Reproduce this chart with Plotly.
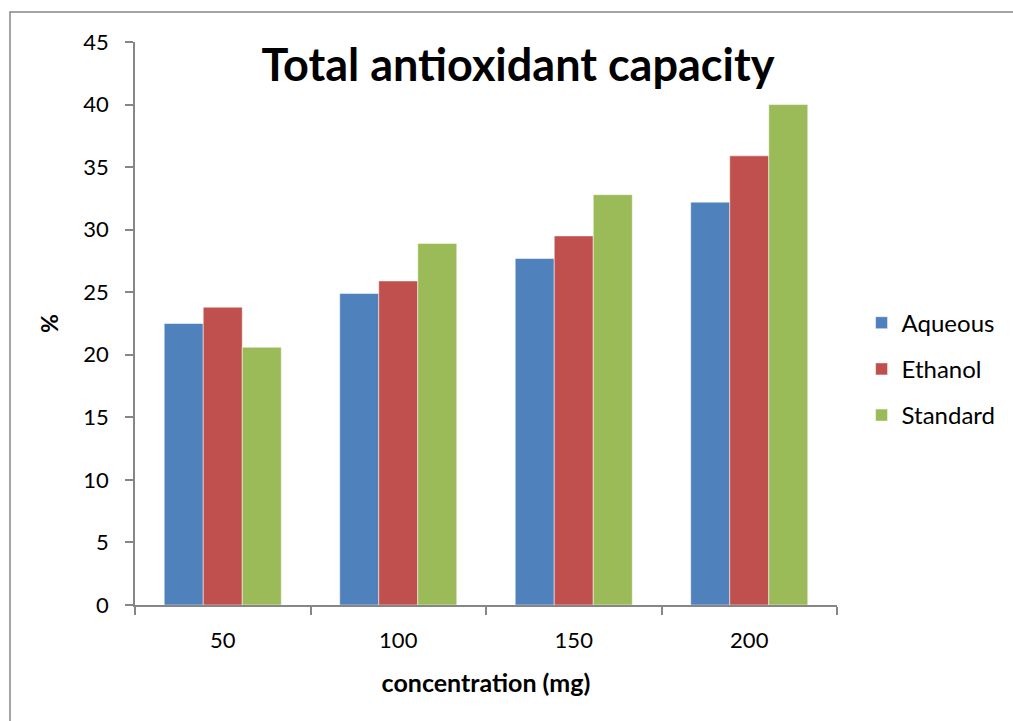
import plotly.graph_objects as go

categories = ["50", "100", "150", "200"]
aqueous = [22.5, 24.9, 27.7, 32.2]
ethanol = [23.8, 25.9, 29.5, 35.9]
standard = [20.6, 28.9, 32.8, 40.0]
series_names = ["Aqueous", "Ethanol", "Standard"]
colors = ["#4F81BD", "#C0504D", "#9BBB59"]
y_ticks = [0, 5, 10, 15, 20, 25, 30, 35, 40, 45]

FONT = "Lato, 'Open Sans', sans-serif"

fig = go.Figure()
for i, (name, vals) in enumerate(zip(series_names, [aqueous, ethanol, standard])):
    fig.add_trace(go.Bar(
        x=categories, y=vals, name=name, legendgroup=name,
        marker=dict(color=colors[i], line=dict(color="rgba(255,255,255,0.5)", width=1)),
    ))

fig.update_layout(
    width=1013, height=721,
    margin=dict(l=135, r=176, t=42, b=116),
    paper_bgcolor="white", plot_bgcolor="white",
    barmode="group", bargap=0.333, bargroupgap=0,
    font=dict(family=FONT, color="black", size=21),
    title=dict(text="<b>Total antioxidant capacity</b>", xref="container", x=518 / 1013,
               xanchor="center", y=1 - 65 / 721, yanchor="middle",
               font=dict(size=45, family=FONT)),
    showlegend=True,
    legend=dict(x=1.035, xanchor="left", y=0.419, yanchor="middle",
                font=dict(size=24, family=FONT), tracegroupgap=12,
                bgcolor="rgba(0,0,0,0)"),
    xaxis=dict(
        type="category", showline=True, linecolor="#868686", linewidth=1.5,
        ticks="outside", ticklen=8, tickcolor="#868686", tickwidth=1.5,
        tickson="boundaries", showgrid=False, ticklabelstandoff=15,
        tickfont=dict(size=22),
        title=dict(text="<b>concentration (mg)</b>", font=dict(size=25), standoff=22),
    ),
    yaxis=dict(
        range=[0, 45], tickvals=y_ticks, showline=True, linecolor="#868686", linewidth=1.5,
        ticks="outside", ticklen=8, tickcolor="#868686", tickwidth=1.5,
        showgrid=False, zeroline=False, ticklabelstandoff=12,
        tickfont=dict(size=22),
        title=dict(text="<b>%</b>", font=dict(size=23), standoff=18),
    ),
    shapes=[dict(type="rect", xref="paper", yref="paper",
                 x0=(10 - 135) / 702, x1=1.5, y0=-0.5, y1=1 + (42 - 12) / 563,
                 line=dict(color="#868686", width=1.5), fillcolor="rgba(0,0,0,0)",
                 layer="below")],
)

fig.write_html("out.html")
